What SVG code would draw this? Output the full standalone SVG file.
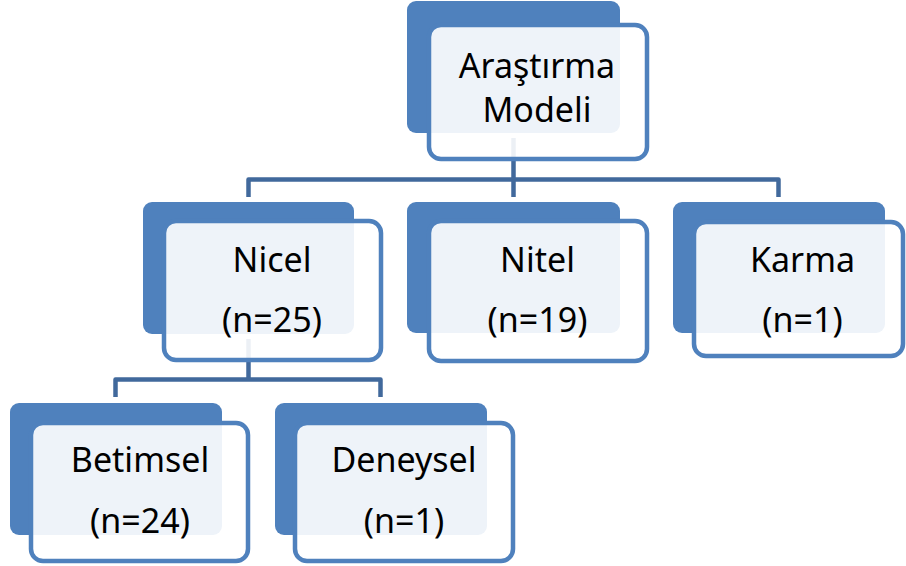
<svg xmlns="http://www.w3.org/2000/svg" width="906" height="566" viewBox="0 0 906 566">
  <style>
    .back { fill: #4F81BD; }
    .front { fill: #FFFFFF; fill-opacity: 0.9; stroke: #4F81BD; stroke-width: 4.5; }
    .lbl { font-family: "Noto Sans", "Liberation Sans", sans-serif; font-size: 34px; fill: #000000; text-anchor: middle; }
    .conn { fill: none; stroke: #41699C; stroke-width: 4.5; stroke-linejoin: round; }
  </style>
  <rect width="906" height="566" fill="#FFFFFF"/>
  <g id="connectors">
    <path class="conn" d="M513.5,138 V197"/>
    <path class="conn" d="M248.5,197 V179.5 H778.5 V197"/>
    <path class="conn" d="M248.5,339 V379.5"/>
    <path class="conn" d="M115.5,397 V379.5 H380.5 V397"/>
  </g>
  <g id="node-arastirma">
    <rect class="back" x="407" y="1" width="213" height="132" rx="9"/>
    <rect class="front" x="429" y="25" width="218" height="134" rx="12"/>
    <text class="lbl" x="537" y="78">Araştırma</text>
    <text class="lbl" x="537" y="122">Modeli</text>
  </g>
  <g id="node-nicel">
    <rect class="back" x="143" y="202" width="211" height="132" rx="9"/>
    <rect class="front" x="164" y="221" width="217" height="139" rx="12"/>
    <text class="lbl" x="272" y="272">Nicel</text>
    <text class="lbl" x="272" y="332">(n=25)</text>
  </g>
  <g id="node-nitel">
    <rect class="back" x="407" y="202" width="213" height="131" rx="9"/>
    <rect class="front" x="429" y="221" width="218" height="140" rx="12"/>
    <text class="lbl" x="537.5" y="272">Nitel</text>
    <text class="lbl" x="537.5" y="332">(n=19)</text>
  </g>
  <g id="node-karma">
    <rect class="back" x="673" y="202" width="212" height="131" rx="9"/>
    <rect class="front" x="694" y="222" width="209" height="134" rx="12"/>
    <text class="lbl" x="802.5" y="272">Karma</text>
    <text class="lbl" x="802.5" y="332">(n=1)</text>
  </g>
  <g id="node-betimsel">
    <rect class="back" x="10" y="403" width="212" height="132" rx="9"/>
    <rect class="front" x="31" y="423" width="217" height="138" rx="12"/>
    <text class="lbl" x="140" y="472">Betimsel</text>
    <text class="lbl" x="140" y="533">(n=24)</text>
  </g>
  <g id="node-deneysel">
    <rect class="back" x="275" y="403" width="212" height="132" rx="9"/>
    <rect class="front" x="295" y="423" width="218" height="138" rx="12"/>
    <text class="lbl" x="404" y="472">Deneysel</text>
    <text class="lbl" x="404" y="533">(n=1)</text>
  </g>
</svg>
